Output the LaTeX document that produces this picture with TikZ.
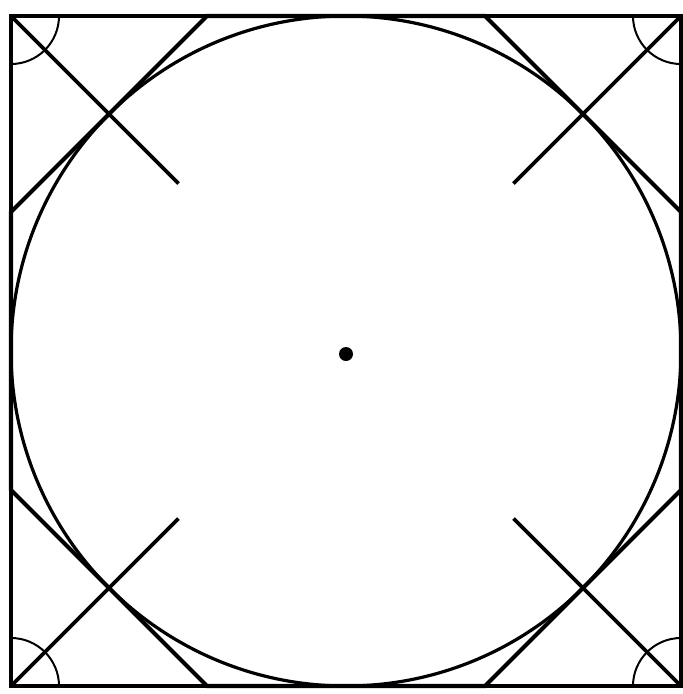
\documentclass[tikz,border=0pt]{standalone}
\usetikzlibrary{calc}
\begin{document}
\begin{tikzpicture}[x=1pt,y=-1pt,
  sq/.style={line width=3.2pt,line join=miter},
  oct/.style={line width=4.2pt,line join=miter},
  circ/.style={line width=3.2pt},
  diag/.style={line width=3.6pt},
  arcmark/.style={line width=2pt}]
\useasboundingbox (0,0) rectangle (683,694);
\def\h{335}
\def\c{196}
\coordinate (O) at (346,351);
\coordinate (TL) at (11,16);
\coordinate (TR) at (681,16);
\coordinate (BR) at (681,686);
\coordinate (BL) at (11,686);
% square
\draw[sq] (TL) -- (TR) -- (BR) -- (BL) -- cycle;
% inscribed circle
\draw[circ] (O) circle[radius=\h];
% circumscribed octagon
\draw[oct] ($(TL)+(\c,0)$) -- ($(TR)+(-\c,0)$) -- ($(TR)+(0,\c)$) -- ($(BR)+(0,-\c)$)
  -- ($(BR)+(-\c,0)$) -- ($(BL)+(\c,0)$) -- ($(BL)+(0,-\c)$) -- ($(TL)+(0,\c)$) -- cycle;
% diagonals from corners halfway to centre
\draw[diag] (TL) -- ($(TL)!0.5!(O)$);
\draw[diag] (TR) -- ($(TR)!0.5!(O)$);
\draw[diag] (BR) -- ($(BR)!0.5!(O)$);
\draw[diag] (BL) -- ($(BL)!0.5!(O)$);
% corner arcs
\draw[arcmark] ($(TL)+(48,0)$) arc[start angle=0,end angle=90,radius=48];
\draw[arcmark] ($(TR)+(0,48)$) arc[start angle=90,end angle=180,radius=48];
\draw[arcmark] ($(BR)+(-48,0)$) arc[start angle=180,end angle=270,radius=48];
\draw[arcmark] ($(BL)+(0,-48)$) arc[start angle=270,end angle=360,radius=48];
% centre dot
\fill (346,354) circle[radius=7];
\end{tikzpicture}
\end{document}
